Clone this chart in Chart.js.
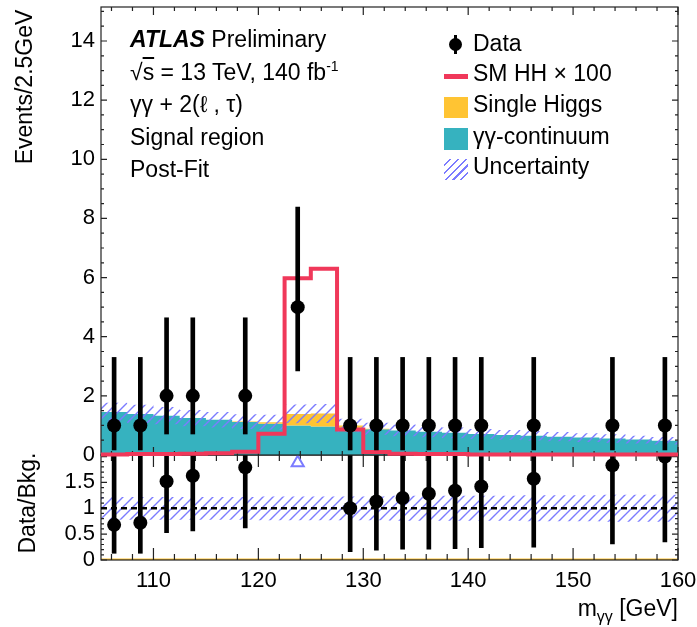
<!DOCTYPE html>
<html>
<head>
<meta charset="utf-8">
<script src="https://cdn.jsdelivr.net/npm/chart.js@4.4.0/dist/chart.umd.min.js"></script>
<style>
body { margin: 0; background: #fff; }
#wrap { position: relative; width: 697px; height: 627px; font-family: "Liberation Sans", Arial, sans-serif; color: #000; overflow: hidden; }
canvas { position: absolute; left: 0; }
#main { top: 0; }
#ratio { top: 440px; }
.t { position: absolute; font-size: 23px; line-height: 23px; white-space: nowrap; }
.rot { transform: translate(-50%, -50%) rotate(-90deg); }
.sw { position: absolute; left: 444px; width: 24px; }
</style>
</head>
<body>
<div id="wrap">
  <canvas id="ratio" width="697" height="187"></canvas>
  <canvas id="main" width="697" height="470"></canvas>

  <div class="t rot" style="left:24px; top:87px;">Events/2.5GeV</div>
  <div class="t rot" style="left:27px; top:503px;">Data/Bkg.</div>
  <div class="t" style="right:19px; top:597px;">m<sub style="font-size:16px; vertical-align:-6px;">γγ</sub> [GeV]</div>

  <div class="t" style="left:130px; top:28px;"><b><i>ATLAS</i></b> Preliminary</div>
  <div class="t" style="left:130px; top:61px;">√<span style="text-decoration:overline;">s</span> = 13 TeV, 140 fb<sup style="font-size:14px; vertical-align:9px; line-height:0;">-1</sup></div>
  <div class="t" style="left:130px; top:93px;">γγ + 2(ℓ , τ)</div>
  <div class="t" style="left:130px; top:126px;">Signal region</div>
  <div class="t" style="left:130px; top:158px;">Post-Fit</div>

  <div style="position:absolute; left:454px; top:35px; width:3px; height:19px; background:#000;"></div>
  <div style="position:absolute; left:449px; top:38px; width:13px; height:13px; border-radius:50%; background:#000;"></div>
  <div class="sw" style="top:74px; height:5px; background:#f0385a;"></div>
  <div class="sw" style="top:97px; height:21px; background:#ffc433;"></div>
  <div class="sw" style="top:128px; height:22px; background:#36b2bf;"></div>
  <div class="sw" style="top:159px; height:21px; background:repeating-linear-gradient(135deg, #fff 0px, #fff 4px, #7b7bff 4px, #7b7bff 5.5px);"></div>
  <div class="t" style="left:473px; top:32px;">Data</div>
  <div class="t" style="left:473px; top:62px;">SM HH × 100</div>
  <div class="t" style="left:473px; top:93px;">Single Higgs</div>
  <div class="t" style="left:473px; top:125px;">γγ-continuum</div>
  <div class="t" style="left:473px; top:155px;">Uncertainty</div>
</div>

<script>
// bins of 2.5 GeV, low edges
const binLow = [105, 107.5, 110, 112.5, 115, 117.5, 120, 122.5, 125, 127.5, 130,
    132.5, 135, 137.5, 140, 142.5, 145, 147.5, 150, 152.5, 155, 157.5];
const binEnd = 160;

const continuum = [1.45, 1.39, 1.33, 1.25, 1.19, 1.12, 1.06, 1.00, 0.96, 0.92, 0.87,
    0.83, 0.79, 0.75, 0.71, 0.68, 0.65, 0.62, 0.59, 0.56, 0.52, 0.48];
const singleHiggs = [0, 0, 0, 0, 0, 0.01, 0.05, 0.39, 0.44, 0.08, 0.02,
    0, 0, 0, 0, 0, 0, 0, 0, 0, 0, 0];
const smHH = [0.02, 0.03, 0.03, 0.04, 0.06, 0.11, 0.72, 5.98, 6.30, 0.86, 0.10,
    0.04, 0.03, 0.03, 0.02, 0.02, 0.02, 0.02, 0.02, 0.02, 0.02, 0.02];
// relative uncertainty of the background
const relUnc = [0.22, 0.22, 0.22, 0.22, 0.22, 0.22, 0.23, 0.23, 0.23, 0.23, 0.23,
    0.24, 0.24, 0.24, 0.24, 0.24, 0.25, 0.25, 0.25, 0.26, 0.26, 0.26];

// data
const dataX = [106.25, 108.75, 111.25, 113.75, 118.75, 123.75, 128.75, 131.25,
    133.75, 136.25, 138.75, 141.25, 146.25, 153.75, 158.75];
const dataY = [1, 1, 2, 2, 2, 5, 1, 1, 1, 1, 1, 1, 1, 1, 1];
const dataLo = [0.17, 0.17, 0.71, 0.71, 0.71, 2.84, 0.17, 0.17, 0.17, 0.17, 0.17, 0.17, 0.17, 0.17, 0.17];
const dataHi = [3.30, 3.30, 4.64, 4.64, 4.64, 8.38, 3.30, 3.30, 3.30, 3.30, 3.30, 3.30, 3.30, 3.30, 3.30];

// ratio panel
const ratioY = [0.68, 0.72, 1.52, 1.63, 1.79, null, 1.00, 1.13, 1.20, 1.28, 1.34, 1.42, 1.57, 1.83, 2.00];
const ratioLo = [0.13, 0.13, 0.53, 0.56, 0.62, null, 0.16, 0.19, 0.21, 0.21, 0.22, 0.24, 0.25, 0.31, 0.35];
const offScaleX = [123.75];
const offScaleY = [1.88];

const mainTicks = [0, 2, 4, 6, 8, 10, 12, 14];
const ratioTicks = [0, 0.5, 1, 1.5];
const xTicks = [110, 120, 130, 140, 150, 160];

const teal = '#36b2bf';
const yellow = '#ffc433';
const red = '#f0385a';
const blue = '#7b7bff';
const tickFont = { family: '"Liberation Sans", Arial, sans-serif', size: 22 };

// histogram as stepped line through the bin low edges
let steps = (vals) => binLow.map((x, i) => ({ x: x, y: vals[i] }))
    .concat([{ x: binEnd, y: vals[vals.length - 1] }]);

const total = continuum.map((v, i) => v + singleHiggs[i]);

function hatch(color) {
    const c = document.createElement('canvas');
    c.width = 10; c.height = 10;
    const g = c.getContext('2d');
    g.strokeStyle = color;
    g.lineWidth = 1.4;
    g.beginPath();
    g.moveTo(0, 10); g.lineTo(10, 0);
    g.moveTo(-3, 3); g.lineTo(3, -3);
    g.moveTo(7, 13); g.lineTo(13, 7);
    g.stroke();
    return g.createPattern(c, 'repeat');
}

// frame with inward ticks, ROOT style, drawn under the given dataset
function frame(o) {
    return {
        id: 'frame',
        beforeDatasetDraw(chart, args) {
            if (args.index !== o.before) return;
            const ctx = chart.ctx;
            const a = chart.chartArea;
            const x = chart.scales.x, y = chart.scales.y;
            ctx.save();
            ctx.strokeStyle = '#222';
            ctx.lineWidth = 1.2;
            ctx.strokeRect(a.left, a.top, a.right - a.left, a.bottom - a.top);
            ctx.beginPath();
            for (let v = 106; v <= 160; v += 2) {
                const px = x.getPixelForValue(v);
                const len = v % 10 === 0 ? o.xMaj : o.xMin;
                ctx.moveTo(px, a.bottom); ctx.lineTo(px, a.bottom - len);
                ctx.moveTo(px, a.top); ctx.lineTo(px, a.top + len);
            }
            const n = Math.floor(y.max / o.yStep + 1e-6);
            for (let k = 0; k <= n; k++) {
                const py = y.getPixelForValue(k * o.yStep);
                const len = k % o.yEvery === 0 ? o.yMaj : o.yMin;
                ctx.moveTo(a.left, py); ctx.lineTo(a.left + len, py);
                ctx.moveTo(a.right, py); ctx.lineTo(a.right - len, py);
            }
            ctx.stroke();
            ctx.restore();
        }
    };
}

function yAxis(min, max, ticks) {
    return {
        min: min, max: max,
        grid: { display: false, drawTicks: false },
        border: { display: false },
        ticks: { font: tickFont, color: '#000', padding: 6, callback: v => String(v) },
        afterBuildTicks: s => { s.ticks = ticks.map(v => ({ value: v })); },
        afterFit: s => { s.width = 101; s.paddingTop = 0; s.paddingBottom = 0; }
    };
}

// main panel
new Chart(document.getElementById('main'), {
    type: 'line',
    data: {
        datasets: [
            {
                label: 'Data',
                data: dataX.map((x, i) => ({ x: x, y: dataY[i] })),
                showLine: false,
                pointRadius: 7,
                pointBackgroundColor: '#000',
                pointBorderWidth: 0
            },
            {
                type: 'bar',
                label: 'Data err',
                data: dataX.map((x, i) => ({ x: x, y: [dataLo[i], dataHi[i]] })),
                backgroundColor: '#000',
                barThickness: 4,
                borderWidth: 0
            },
            {
                label: 'SM HH x 100',
                data: steps(smHH),
                stepped: true,
                clip: 4,
                borderColor: red,
                borderWidth: 4,
                pointRadius: 0,
                fill: false
            },
            {
                label: 'Uncertainty',
                data: steps(total.map((v, i) => v * (1 + relUnc[i]))),
                stepped: true,
                borderWidth: 0,
                pointRadius: 0,
                backgroundColor: hatch(blue),
                fill: '+1'
            },
            {
                label: 'unc low',
                data: steps(total.map((v, i) => v * (1 - relUnc[i]))),
                stepped: true,
                borderWidth: 0,
                pointRadius: 0,
                fill: false
            },
            {
                label: 'Single Higgs',
                data: steps(total),
                stepped: true,
                borderWidth: 0,
                pointRadius: 0,
                backgroundColor: yellow,
                fill: '+1'
            },
            {
                label: 'continuum',
                data: steps(continuum),
                stepped: true,
                borderWidth: 0,
                pointRadius: 0,
                backgroundColor: teal,
                fill: 'origin'
            }
        ]
    },
    options: {
        responsive: false,
        animation: false,
        layout: { padding: { left: 0, right: 19, top: 7, bottom: 15 } },
        plugins: { legend: { display: false }, tooltip: { enabled: false } },
        scales: {
            x: { type: 'linear', min: 105, max: 160, offset: false, display: false },
            y: yAxis(0, 15.15, mainTicks)
        }
    },
    plugins: [frame({ before: 2, xMaj: 8, xMin: 4, yStep: 0.5, yEvery: 4, yMaj: 6, yMin: 3 })]
});

// ratio panel
const ratioPts = [];
const ratioErr = [];
dataX.forEach((x, i) => {
    if (ratioY[i] === null) return;
    ratioPts.push({ x: x, y: ratioY[i] });
    ratioErr.push({ x: x, y: [ratioLo[i], ratioY[i] * dataHi[i] / dataY[i]] });
});

new Chart(document.getElementById('ratio'), {
    type: 'line',
    data: {
        datasets: [
            {
                label: 'Ratio',
                data: ratioPts,
                showLine: false,
                clip: 0,
                pointRadius: 7,
                pointBackgroundColor: '#000',
                pointBorderWidth: 0
            },
            {
                type: 'bar',
                label: 'Ratio err',
                data: ratioErr,
                clip: 0,
                backgroundColor: '#000',
                barThickness: 4,
                borderWidth: 0
            },
            {
                label: 'off scale',
                data: offScaleX.map((x, i) => ({ x: x, y: offScaleY[i] })),
                showLine: false,
                pointStyle: 'triangle',
                pointRadius: 7,
                pointBorderColor: blue,
                pointBorderWidth: 2,
                pointBackgroundColor: 'rgba(0,0,0,0)'
            },
            {
                label: 'one',
                data: [{ x: 105, y: 1 }, { x: 160, y: 1 }],
                borderColor: '#000',
                borderWidth: 2.5,
                borderDash: [6, 4],
                pointRadius: 0
            },
            {
                label: 'unc up',
                data: steps(relUnc.map(u => 1 + u)),
                stepped: true,
                borderWidth: 0,
                pointRadius: 0,
                backgroundColor: hatch(blue),
                fill: '+1'
            },
            {
                label: 'unc down',
                data: steps(relUnc.map(u => 1 - u)),
                stepped: true,
                borderWidth: 0,
                pointRadius: 0,
                fill: false
            },
            {
                label: 'zero',
                data: [{ x: 105, y: 0 }, { x: 160, y: 0 }],
                borderColor: yellow,
                borderWidth: 3,
                pointRadius: 0
            }
        ]
    },
    options: {
        responsive: false,
        animation: false,
        layout: { padding: { left: 0, right: 19, top: 15, bottom: 0 } },
        plugins: { legend: { display: false }, tooltip: { enabled: false } },
        scales: {
            x: {
                type: 'linear', min: 105, max: 160, offset: false,
                grid: { display: false, drawTicks: false },
                border: { display: false },
                ticks: { font: tickFont, color: '#000', padding: 8 },
                afterBuildTicks: s => { s.ticks = xTicks.map(v => ({ value: v })); },
                afterFit: s => { s.height = 67; s.paddingLeft = 0; s.paddingRight = 0; }
            },
            y: yAxis(0, 2.03, ratioTicks)
        }
    },
    plugins: [frame({ before: 3, xMaj: 12, xMin: 6, yStep: 0.1, yEvery: 5, yMaj: 6, yMin: 3 })]
});
</script>
</body>
</html>
